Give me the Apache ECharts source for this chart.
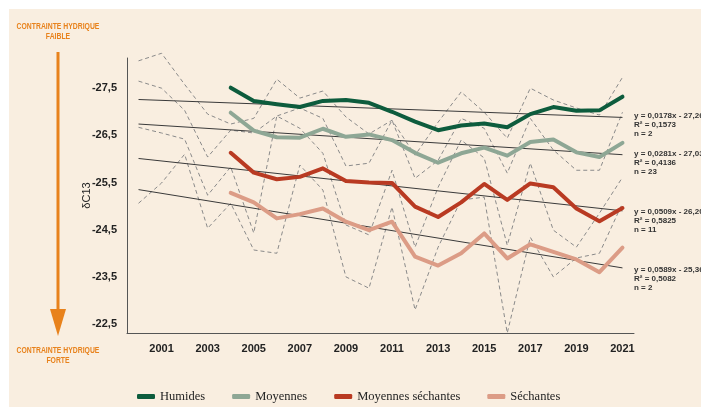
<html>
<head>
<meta charset="utf-8">
<title>δC13</title>
<script src="https://cdn.jsdelivr.net/npm/echarts@6/dist/echarts.min.js"></script>
<style>
  body { margin: 0; padding: 0; background: #ffffff; }
  #main { width: 701px; height: 407px; }
</style>
</head>
<body>
<div id="main"></div>
<script type="text/javascript">
// années
var yearsAll = [2000, 2001, 2002, 2003, 2004, 2005, 2006, 2007, 2008, 2009, 2010,
                2011, 2012, 2013, 2014, 2015, 2016, 2017, 2018, 2019, 2020, 2021];
var yearsMain = yearsAll.slice(4);
var xTicks = [2001, 2003, 2005, 2007, 2009, 2011, 2013, 2015, 2017, 2019, 2021];
var yTicks = [-27.5, -26.5, -25.5, -24.5, -23.5, -22.5];

// moyennes par classe (2004-2021)
var humides = [-27.51, -27.23, -27.16, -27.10, -27.23, -27.25, -27.19, -27.00, -26.79,
               -26.61, -26.71, -26.75, -26.67, -26.95, -27.10, -27.02, -27.03, -27.32];
var moyennes = [-26.98, -26.60, -26.46, -26.45, -26.64, -26.47, -26.52, -26.40, -26.13,
                -25.92, -26.12, -26.24, -26.07, -26.36, -26.41, -26.14, -26.04, -26.34];
var moySechantes = [-26.13, -25.71, -25.57, -25.62, -25.80, -25.53, -25.50, -25.49, -24.99,
                    -24.77, -25.08, -25.47, -25.13, -25.48, -25.40, -24.95, -24.68, -24.96];
var sechantes = [-25.28, -25.08, -24.74, -24.83, -24.95, -24.67, -24.49, -24.67, -23.93,
                 -23.74, -24.00, -24.42, -23.89, -24.19, -24.03, -23.87, -23.60, -24.12];

// séries individuelles (pointillés, 2000-2021)
var serie1 = [-28.08, -28.24, -27.58, -26.95, -26.74, -26.86, -27.69, -27.29, -27.44, -26.89, -26.53,
              -26.82, -26.08, -26.78, -27.42, -26.99, -26.44, -27.50, -27.25, -27.08, -26.93, -27.73];
var serie2 = [-27.65, -27.50, -27.03, -26.04, -26.61, -26.55, -26.91, -27.08, -26.86, -25.85, -25.91,
              -26.82, -25.59, -25.97, -26.86, -26.65, -25.70, -26.86, -26.19, -25.76, -25.76, -26.99];
var serie3 = [-26.67, -26.55, -26.42, -25.23, -25.83, -24.43, -26.91, -26.65, -26.12, -24.60, -24.39,
              -25.76, -24.13, -25.40, -26.40, -26.02, -24.17, -25.91, -24.49, -24.13, -24.85, -25.61];
var serie4 = [-25.06, -25.49, -26.10, -24.53, -25.06, -24.07, -24.00, -25.87, -25.34, -23.50, -23.26,
              -24.98, -22.80, -24.13, -25.13, -25.19, -22.31, -24.34, -23.50, -23.90, -24.00, -25.06];

// tendances (valeurs en 2000 et 2021)
var trendYears = [2000, 2021];
var trendHumides = [-27.26, -26.88];
var trendMoyennes = [-26.74, -26.09];
var trendMoySech = [-26.01, -24.90];
var trendSechantes = [-25.35, -23.69];

var equations = [
    ['y = 0,0178x - 27,26', 'R² = 0,1573', 'n = 2'],
    ['y = 0,0281x - 27,03', 'R² = 0,4136', 'n = 23'],
    ['y = 0,0509x - 26,20', 'R² = 0,5825', 'n = 11'],
    ['y = 0,0589x - 25,36', 'R² = 0,5082', 'n = 2']
];
var eqTop = [111, 149, 207, 265];

var names = ['Humides', 'Moyennes', 'Moyennes séchantes', 'Séchantes'];
var colors = ['#0d5c3d', '#8ea795', '#b93a22', '#dc9c86'];
var orange = '#e8821c';

function pairs(xs, ys) {
    return xs.map(function (x, i) { return [x, ys[i]]; });
}

var series = [];
[serie1, serie2, serie3, serie4].forEach(function (s) {
    series.push({
        type: 'line', data: pairs(yearsAll, s), symbol: 'none', silent: true, clip: false,
        lineStyle: { color: '#8a8a8a', width: 1, type: [4, 3] }, z: 1
    });
});
[trendHumides, trendMoyennes, trendMoySech, trendSechantes].forEach(function (t) {
    series.push({
        type: 'line', data: pairs(trendYears, t), symbol: 'none', silent: true,
        lineStyle: { color: '#3a3a3a', width: 1 }, z: 2
    });
});
[humides, moyennes, moySechantes, sechantes].forEach(function (s, i) {
    series.push({
        name: names[i], type: 'line', data: pairs(yearsMain, s), symbol: 'none',
        lineStyle: { color: colors[i], width: 4, cap: 'round', join: 'round' },
        itemStyle: { color: colors[i] }, z: 3
    });
});

// annotations (texte condensé par scaleX)
var noteFont = 'bold 9px "Liberation Sans", Arial, sans-serif';
var graphics = [
    { type: 'rect', shape: { x: 9, y: 9, width: 701, height: 407 }, style: { fill: '#f9eee0' }, z: -10 },
    { type: 'text', x: 58, y: 22, scaleX: 0.76,
      style: { text: 'CONTRAINTE HYDRIQUE\nFAIBLE', x: 0, y: 0, textAlign: 'center', fill: orange, font: noteFont, lineHeight: 10 } },
    { type: 'line', shape: { x1: 58, y1: 52, x2: 58, y2: 312 }, style: { stroke: orange, lineWidth: 3 } },
    { type: 'polygon', shape: { points: [[50, 309], [66, 309], [58, 336]] }, style: { fill: orange } },
    { type: 'text', x: 58, y: 346, scaleX: 0.76,
      style: { text: 'CONTRAINTE HYDRIQUE\nFORTE', x: 0, y: 0, textAlign: 'center', fill: orange, font: noteFont, lineHeight: 10 } }
];
equations.forEach(function (eq, i) {
    graphics.push({ type: 'text', style: { text: eq.join('\n'), x: 634, y: eqTop[i], fill: '#333333',
        font: 'bold 8px "Liberation Sans", Arial, sans-serif', lineHeight: 9 } });
});

var myChart = echarts.init(document.getElementById('main'), null, { renderer: 'canvas' });
var option = {
    animation: false,
    backgroundColor: '#ffffff',
    grid: { left: 127, top: 58, right: 67, bottom: 74 },
    legend: {
        data: names, left: 137, top: 390, padding: 0, icon: 'roundRect', itemWidth: 18, itemHeight: 5, itemGap: 27,
        textStyle: { fontFamily: '"Liberation Serif", serif', fontSize: 12.5, color: '#222' }
    },
    xAxis: {
        type: 'value', min: 1999.5, max: 2021.5,
        axisLine: { show: true, lineStyle: { color: '#555', width: 1 } },
        axisTick: { show: false }, splitLine: { show: false },
        axisLabel: {
            customValues: xTicks, margin: 10, color: '#222', fontWeight: 'bold', fontSize: 11,
            fontFamily: '"Liberation Sans Narrow", "Liberation Sans", sans-serif',
            formatter: function (v) { return String(v); }
        }
    },
    yAxis: {
        type: 'value', inverse: true, min: -28.14, max: -22.31,
        name: 'δC13', nameLocation: 'middle', nameGap: 35, nameMoveOverlap: false,
        nameTextStyle: { color: '#222', fontSize: 11, fontFamily: '"Liberation Sans", sans-serif' },
        axisLine: { show: true, lineStyle: { color: '#555', width: 1 } },
        axisTick: { show: false }, splitLine: { show: false },
        axisLabel: {
            customValues: yTicks, margin: 10, color: '#222', fontWeight: 'bold', fontSize: 11,
            fontFamily: '"Liberation Sans Narrow", "Liberation Sans", sans-serif',
            formatter: function (v) { return v.toFixed(1).replace('.', ','); }
        }
    },
    graphic: graphics,
    series: series
};
myChart.setOption(option);
</script>
</body>
</html>
